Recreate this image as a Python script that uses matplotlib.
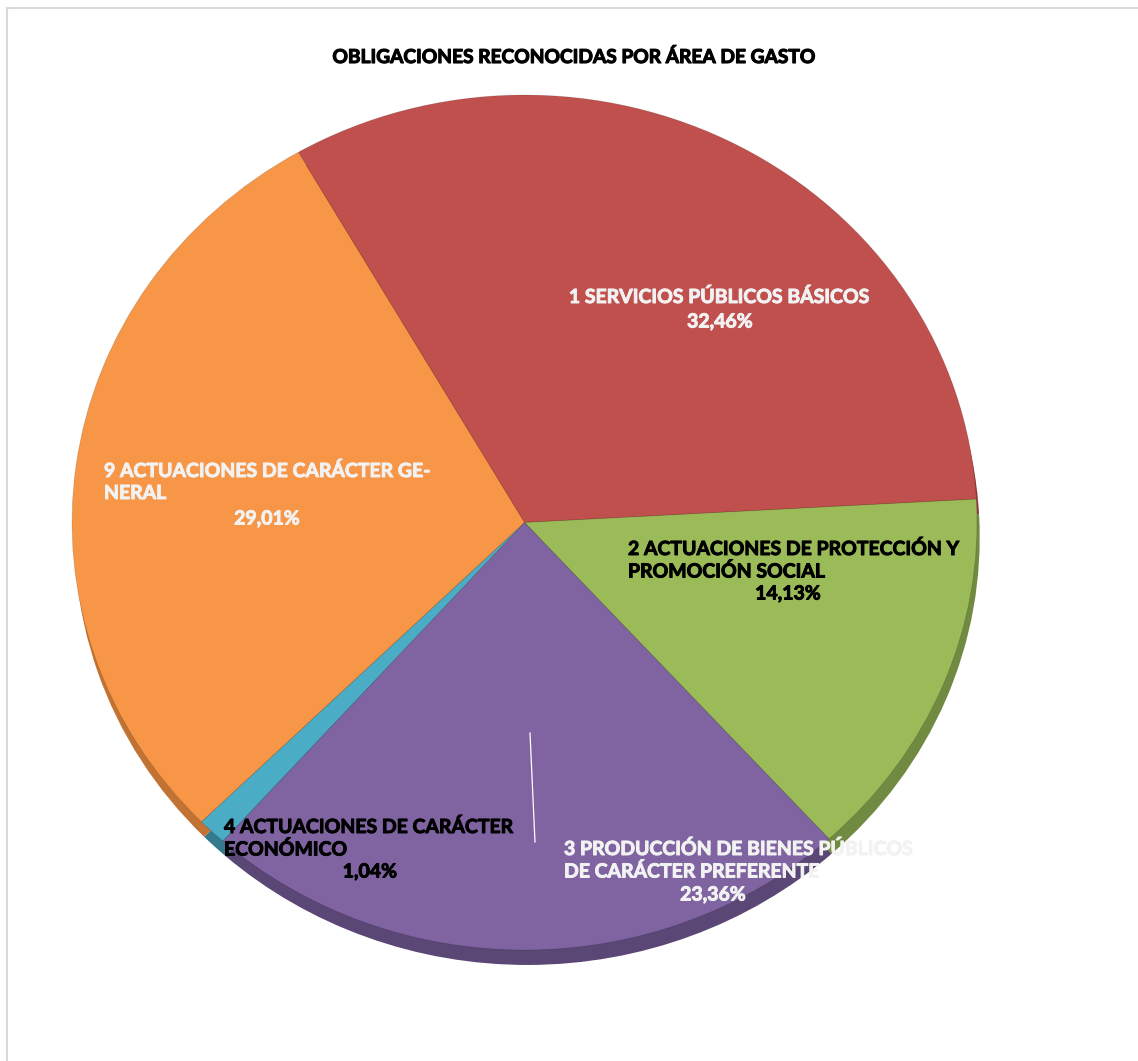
import matplotlib
matplotlib.use("Agg")
import matplotlib.pyplot as plt
from matplotlib.patches import Rectangle
from matplotlib.lines import Line2D
import matplotlib.patheffects as pe

# ---- data ----
categories = [
    "1 SERVICIOS PÚBLICOS BÁSICOS",
    "2 ACTUACIONES DE PROTECCIÓN Y PROMOCIÓN SOCIAL",
    "3 PRODUCCIÓN DE BIENES PÚBLICOS DE CARÁCTER PREFERENTE",
    "4 ACTUACIONES DE CARÁCTER ECONÓMICO",
    "9 ACTUACIONES DE CARÁCTER GENERAL",
]
label_lines = [
    ["1 SERVICIOS PÚBLICOS BÁSICOS"],
    ["2 ACTUACIONES DE PROTECCIÓN Y", "PROMOCIÓN SOCIAL"],
    ["3 PRODUCCIÓN DE BIENES PÚBLICOS", "DE CARÁCTER PREFERENTE"],
    ["4 ACTUACIONES DE CARÁCTER", "ECONÓMICO"],
    ["9 ACTUACIONES DE CARÁCTER GE-", "NERAL"],
]
values = [32.46, 14.13, 23.36, 1.04, 29.01]
pct_labels = ["32,46%", "14,13%", "23,36%", "1,04%", "29,01%"]
colors = ["#C0504D", "#9BBB59", "#8064A2", "#4BACC6", "#F79646"]
shadow_colors = ["#8E3B39", "#718A41", "#5A4775", "#35798C", "#C27333"]
text_colors = ["#F2F2F2", "#000000", "#F2F2F2", "#000000", "#F2F2F2"]
title = "OBLIGACIONES RECONOCIDAS POR ÁREA DE GASTO"

W, H = 1138, 1061
fig = plt.figure(figsize=(W / 100, H / 100), dpi=100)
fig.patch.set_facecolor("white")

def px(x, y):
    return x / W, 1 - y / H

# chart frame
fig.patches.append(Rectangle(px(7, 1080), (1150 - 7) / W, (1080 - 8) / H,
                             transform=fig.transFigure, fill=False,
                             edgecolor="#D9D9D9", linewidth=1.5))

# pie axes: ellipse spanning x 72..977, y 95..950
left, right, top, bottom = 72, 977, 95, 950
ax = fig.add_axes([left / W, 1 - bottom / H, (right - left) / W, (bottom - top) / H])
ax.set_axis_off()

# shadow pie
ax.pie(values, colors=shadow_colors, startangle=120, counterclock=False,
       center=(0.006, -0.035), radius=1.0,
       wedgeprops=dict(linewidth=0))
# main pie
wedges, _ = ax.pie(values, colors=colors, startangle=120, counterclock=False,
                   radius=1.0, wedgeprops=dict(linewidth=0.6, edgecolor="#00000022"))
ax.set_aspect("auto")
ax.set_xlim(-1.0, 1.0)
ax.set_ylim(-1.0, 1.0)

font = dict(family=["Lato", "DejaVu Sans"], fontweight="bold")
fs = 14.0

def thick(c, w=0.7):
    return [pe.withStroke(linewidth=w, foreground=c)]

fig.text(*px(573, 57), title, ha="center", va="center", fontsize=13.8,
         color="black", path_effects=thick("black", 0.8), **font)

# label layout (pixel positions of each block)
blocks = [
    # (line x, line1 y, ha, pct x, pct y)
    (720, 297, "center", 720, 322),
    (628, 549, "left", 788, 594),
    (564, 849, "left", 713, 895),
    (224, 827, "left", 370, 872),
    (104, 471, "left", 267, 519),
]
for lines, pct, tc, (lx, ly, ha, qx, qy) in zip(label_lines, pct_labels, text_colors, blocks):
    for i, ln in enumerate(lines):
        fig.text(*px(lx, ly + i * 22.5), ln, ha=ha, va="center", fontsize=fs,
                 color=tc, path_effects=thick(tc), **font)
    fig.text(*px(qx, qy), pct, ha="center", va="center", fontsize=fs,
             color=tc, path_effects=thick(tc), **font)

# leader line for label 3
x0, y0 = px(530, 733)
x1, y1 = px(535, 842)
fig.add_artist(Line2D([x0, x1], [y0, y1], transform=fig.transFigure,
                      color="white", linewidth=0.9))

fig.savefig("out.png", dpi=100, facecolor="white")
